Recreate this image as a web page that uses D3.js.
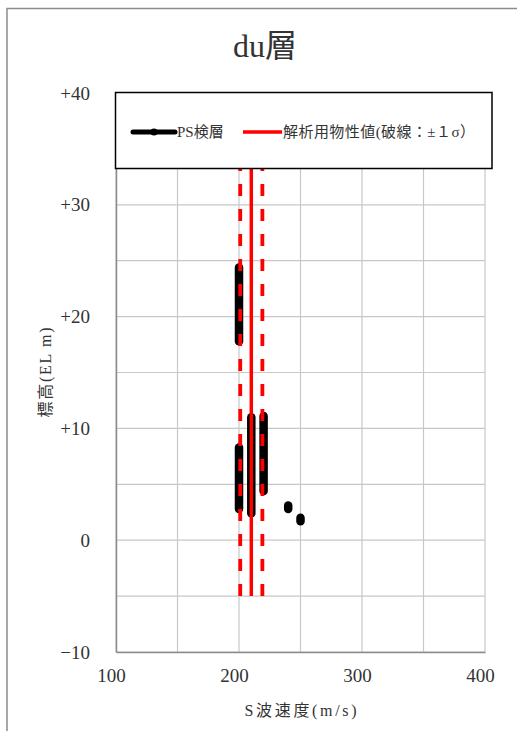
<!DOCTYPE html>
<html>
<head>
<meta charset="utf-8">
<script src="https://cdn.jsdelivr.net/npm/d3@7"></script>
<style>
  html, body { margin: 0; padding: 0; background: #fff; }
  svg { display: block; }
  text { font-family: "Liberation Serif", "DejaVu Serif", "Noto Sans CJK JP", serif; fill: #333; }
</style>
</head>
<body>
<script>
// ---- data ----
const title = "du層";
const xTitle = "S波速度(m/s)";
const yTitle = "標高(EL m)";
const xTicks = [100, 200, 300, 400];
const xTickLabels = ["100", "200", "300", "400"];
const yTicks = [-10, 0, 10, 20, 30, 40];
const yTickLabels = ["−10", "0", "+10", "+20", "+30", "+40"];
const xGrid = [100, 150, 200, 250, 300, 350, 400];
const yGrid = [-10, -5, 0, 5, 10, 15, 20, 25, 30, 35, 40];

// PS logging segments (S-wave velocity, top elevation, bottom elevation)
const psVs     = [200,  200, 210,  220,  240, 250];
const psTop    = [24.4, 8.3, 11.0, 11.1, 3.1, 2.0];
const psBottom = [17.8, 2.8, 2.4,  4.4,  2.8, 1.7];

// analysis property value and ±1σ
const designMean = 210;
const designLow = 201;
const designHigh = 219;
const designElev = [-5, 40];

const legendLabels = ["PS検層", "解析用物性値(破線：±１σ）"];

// ---- layout ----
const W = 517, H = 731;
const plot = { left: 116, top: 93, right: 485, bottom: 652 };

const svg = d3.select("body").append("svg").attr("width", W).attr("height", H);

// chart frame
svg.append("path")
  .attr("d", `M7,${H} L7,8.5 L${W},8.5`)
  .attr("fill", "none").attr("stroke", "#8c8c8c").attr("stroke-width", 1.5);

const x = d3.scaleLinear().domain([100, 400]).range([plot.left, plot.right]);
const y = d3.scaleLinear().domain([-10, 40]).range([plot.bottom, plot.top]);

// gridlines
const g = svg.append("g");
g.selectAll("line.vg").data(xGrid).enter().append("line")
  .attr("x1", d => x(d)).attr("x2", d => x(d))
  .attr("y1", plot.top).attr("y2", plot.bottom)
  .attr("stroke", "#c8c8c8").attr("stroke-width", 1.2);
g.selectAll("line.hg").data(yGrid).enter().append("line")
  .attr("x1", plot.left).attr("x2", plot.right)
  .attr("y1", d => y(d)).attr("y2", d => y(d))
  .attr("stroke", "#c8c8c8").attr("stroke-width", 1.2);

// axes
const xAxis = d3.axisBottom(x).tickValues(xTicks).tickSize(0)
  .tickFormat((d, i) => xTickLabels[i]).tickPadding(13);
const xg = svg.append("g").attr("transform", `translate(0,${plot.bottom})`).call(xAxis);
xg.select(".domain").attr("stroke", "#8c8c8c").attr("stroke-width", 1.5);
xg.selectAll("text").attr("font-size", 19).attr("fill", "#333")
  .attr("dx", -5).attr("dy", "0.9em")
  .style("font-family", '"Liberation Serif", "DejaVu Serif", serif');

const yAxis = d3.axisLeft(y).tickValues(yTicks).tickSize(0)
  .tickFormat((d, i) => yTickLabels[i]).tickPadding(26);
const yg = svg.append("g").attr("transform", `translate(${plot.left},0)`).call(yAxis);
yg.select(".domain").attr("stroke", "#8c8c8c").attr("stroke-width", 1.5);
yg.selectAll("text").attr("font-size", 19).attr("fill", "#333")
  .style("font-family", '"Liberation Serif", "DejaVu Serif", serif');

// PS logging segments
const segs = psVs.map((v, i) => ({ v, top: psTop[i], bottom: psBottom[i] }));
svg.append("g").selectAll("line").data(segs).enter().append("line")
  .attr("x1", d => x(d.v)).attr("x2", d => x(d.v))
  .attr("y1", d => y(d.top)).attr("y2", d => y(d.bottom))
  .attr("stroke", "#000").attr("stroke-width", 8.5).attr("stroke-linecap", "round");

// design lines
const red = "#ff0000";
const dl = svg.append("g");
[designLow, designHigh].forEach(v => {
  dl.append("line")
    .attr("x1", x(v)).attr("x2", x(v))
    .attr("y1", y(designElev[0])).attr("y2", y(designElev[1]))
    .attr("stroke", red).attr("stroke-width", 3.8).attr("stroke-dasharray", "12,13");
});
dl.append("line")
  .attr("x1", x(designMean)).attr("x2", x(designMean))
  .attr("y1", y(designElev[0])).attr("y2", y(designElev[1]))
  .attr("stroke", red).attr("stroke-width", 3.5);

// legend
const lg = svg.append("g");
lg.append("rect").attr("x", 115.5).attr("y", 92.5).attr("width", 376.5).attr("height", 76)
  .attr("fill", "#fff").attr("stroke", "#000").attr("stroke-width", 1.5);
const ly = 132;
lg.append("line").attr("x1", 133).attr("x2", 175).attr("y1", ly).attr("y2", ly)
  .attr("stroke", "#000").attr("stroke-width", 5).attr("stroke-linecap", "round");
lg.append("circle").attr("cx", 154).attr("cy", ly).attr("r", 3.6).attr("fill", "#000");
lg.append("text").attr("x", 177).attr("y", ly).attr("dy", "0.36em")
  .attr("font-size", 15).attr("fill", "#333").text(legendLabels[0]);
lg.append("line").attr("x1", 243).attr("x2", 282).attr("y1", ly).attr("y2", ly)
  .attr("stroke", red).attr("stroke-width", 3.5);
lg.append("text").attr("x", 283).attr("y", ly).attr("dy", "0.36em")
  .attr("font-size", 15).attr("fill", "#333")
  .attr("textLength", 192).attr("lengthAdjust", "spacing").text(legendLabels[1]);

// titles
svg.append("text").attr("x", 265).attr("y", 57).attr("text-anchor", "middle")
  .attr("font-size", 32).attr("fill", "#333").text(title);
svg.append("text").attr("x", (plot.left + plot.right) / 2).attr("y", 716)
  .attr("text-anchor", "middle").attr("font-size", 16).attr("fill", "#333")
  .attr("textLength", 112).attr("lengthAdjust", "spacing").text(xTitle);
svg.append("text")
  .attr("transform", `translate(51,${(plot.top + plot.bottom) / 2}) rotate(-90)`)
  .attr("text-anchor", "middle").attr("font-size", 16).attr("fill", "#333")
  .attr("textLength", 90).attr("lengthAdjust", "spacing").text(yTitle);
</script>
</body>
</html>
